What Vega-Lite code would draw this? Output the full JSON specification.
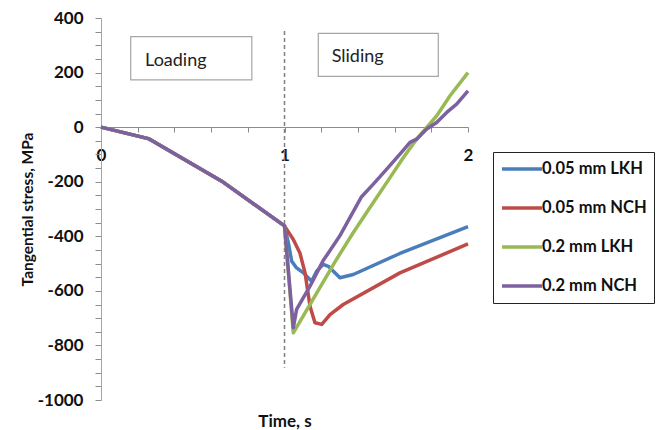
{
  "$schema": "https://vega.github.io/schema/vega-lite/v6.json",
  "width": 367,
  "height": 382,
  "autosize": {"type": "none"},
  "padding": {"left": 101, "top": 18, "right": 194, "bottom": 30},
  "background": "white",
  "config": {"view": {"stroke": null}, "font": "Lato"},
  "datasets": {
    "boxes": [
      {"x1": 0.162, "x2": 0.822, "y1": 173, "y2": 332, "label": "Loading", "tx": 0.24, "ty": 225},
      {"x1": 1.184, "x2": 1.838, "y1": 186, "y2": 344, "label": "Sliding", "tx": 1.257, "ty": 237}
    ],
    "divider": [{"time": 1, "top": 352, "bottom": -882}],
    "curves": [
      {"series": "0.05 mm LKH", "time": 0, "stress": 0},
      {"series": "0.05 mm LKH", "time": 0.258, "stress": -42},
      {"series": "0.05 mm LKH", "time": 0.658, "stress": -198},
      {"series": "0.05 mm LKH", "time": 1.0, "stress": -362},
      {"series": "0.05 mm LKH", "time": 1.021, "stress": -424},
      {"series": "0.05 mm LKH", "time": 1.039, "stress": -491},
      {"series": "0.05 mm LKH", "time": 1.066, "stress": -516},
      {"series": "0.05 mm LKH", "time": 1.103, "stress": -534},
      {"series": "0.05 mm LKH", "time": 1.148, "stress": -565},
      {"series": "0.05 mm LKH", "time": 1.175, "stress": -528},
      {"series": "0.05 mm LKH", "time": 1.211, "stress": -503},
      {"series": "0.05 mm LKH", "time": 1.239, "stress": -510},
      {"series": "0.05 mm LKH", "time": 1.302, "stress": -552},
      {"series": "0.05 mm LKH", "time": 1.375, "stress": -540},
      {"series": "0.05 mm LKH", "time": 1.629, "stress": -463},
      {"series": "0.05 mm LKH", "time": 2.0, "stress": -365},

      {"series": "0.05 mm NCH", "time": 0, "stress": 0},
      {"series": "0.05 mm NCH", "time": 0.258, "stress": -42},
      {"series": "0.05 mm NCH", "time": 0.658, "stress": -198},
      {"series": "0.05 mm NCH", "time": 1.0, "stress": -362},
      {"series": "0.05 mm NCH", "time": 1.048, "stress": -412},
      {"series": "0.05 mm NCH", "time": 1.084, "stress": -461},
      {"series": "0.05 mm NCH", "time": 1.112, "stress": -534},
      {"series": "0.05 mm NCH", "time": 1.139, "stress": -656},
      {"series": "0.05 mm NCH", "time": 1.166, "stress": -717},
      {"series": "0.05 mm NCH", "time": 1.203, "stress": -723},
      {"series": "0.05 mm NCH", "time": 1.248, "stress": -687},
      {"series": "0.05 mm NCH", "time": 1.32, "stress": -650},
      {"series": "0.05 mm NCH", "time": 1.629, "stress": -534},
      {"series": "0.05 mm NCH", "time": 2.0, "stress": -428},

      {"series": "0.2 mm LKH", "time": 0, "stress": 0},
      {"series": "0.2 mm LKH", "time": 0.258, "stress": -42},
      {"series": "0.2 mm LKH", "time": 0.658, "stress": -198},
      {"series": "0.2 mm LKH", "time": 1.0, "stress": -362},
      {"series": "0.2 mm LKH", "time": 1.048, "stress": -754},
      {"series": "0.2 mm LKH", "time": 1.284, "stress": -484},
      {"series": "0.2 mm LKH", "time": 1.375, "stress": -386},
      {"series": "0.2 mm LKH", "time": 1.484, "stress": -276},
      {"series": "0.2 mm LKH", "time": 1.575, "stress": -185},
      {"series": "0.2 mm LKH", "time": 1.647, "stress": -112},
      {"series": "0.2 mm LKH", "time": 1.72, "stress": -44},
      {"series": "0.2 mm LKH", "time": 1.775, "stress": -1},
      {"series": "0.2 mm LKH", "time": 1.829, "stress": 41},
      {"series": "0.2 mm LKH", "time": 1.902, "stress": 115},
      {"series": "0.2 mm LKH", "time": 2.0, "stress": 200},

      {"series": "0.2 mm NCH", "time": 0, "stress": 0},
      {"series": "0.2 mm NCH", "time": 0.258, "stress": -42},
      {"series": "0.2 mm NCH", "time": 0.658, "stress": -198},
      {"series": "0.2 mm NCH", "time": 1.0, "stress": -362},
      {"series": "0.2 mm NCH", "time": 1.048, "stress": -735},
      {"series": "0.2 mm NCH", "time": 1.066, "stress": -668},
      {"series": "0.2 mm NCH", "time": 1.139, "stress": -583},
      {"series": "0.2 mm NCH", "time": 1.21, "stress": -490},
      {"series": "0.2 mm NCH", "time": 1.3, "stress": -400},
      {"series": "0.2 mm NCH", "time": 1.42, "stress": -255},
      {"series": "0.2 mm NCH", "time": 1.484, "stress": -209},
      {"series": "0.2 mm NCH", "time": 1.557, "stress": -154},
      {"series": "0.2 mm NCH", "time": 1.629, "stress": -99},
      {"series": "0.2 mm NCH", "time": 1.684, "stress": -56},
      {"series": "0.2 mm NCH", "time": 1.72, "stress": -44},
      {"series": "0.2 mm NCH", "time": 1.775, "stress": -7},
      {"series": "0.2 mm NCH", "time": 1.829, "stress": 17},
      {"series": "0.2 mm NCH", "time": 1.884, "stress": 54},
      {"series": "0.2 mm NCH", "time": 1.938, "stress": 84},
      {"series": "0.2 mm NCH", "time": 2.0, "stress": 133}
    ]
  },
  "layer": [
    {
      "data": {"name": "boxes"},
      "mark": {"type": "rect", "fill": "white", "stroke": "#a6a6a6", "strokeWidth": 1.2},
      "encoding": {
        "x": {"field": "x1", "type": "quantitative"},
        "x2": {"field": "x2"},
        "y": {"field": "y1", "type": "quantitative"},
        "y2": {"field": "y2"}
      }
    },
    {
      "data": {"name": "boxes"},
      "mark": {"type": "text", "align": "left", "baseline": "alphabetic", "font": "Lato", "fontSize": 18, "color": "#222"},
      "encoding": {
        "x": {"field": "tx", "type": "quantitative"},
        "y": {"field": "ty", "type": "quantitative"},
        "text": {"field": "label"}
      }
    },
    {
      "data": {"name": "divider"},
      "mark": {"type": "rule", "color": "#808080", "strokeWidth": 1.5, "strokeDash": [4, 3]},
      "encoding": {
        "x": {"field": "time", "type": "quantitative"},
        "y": {"field": "top", "type": "quantitative"},
        "y2": {"field": "bottom"}
      }
    },
    {
      "data": {"name": "curves"},
      "mark": {"type": "line", "strokeWidth": 3.5, "interpolate": "linear", "strokeJoin": "round"},
      "encoding": {
        "x": {
          "field": "time", "type": "quantitative",
          "scale": {"domain": [0, 2], "nice": false, "zero": false},
          "axis": {
            "values": [0, 0.2, 0.4, 0.6, 0.8, 1, 1.2, 1.4, 1.6, 1.8, 2],
            "tickCount": 100,
            "labelExpr": "abs(datum.value - round(datum.value)) < 0.001 ? toString(round(datum.value)) : ''",
            "labelFlush": false,
            "labelOverlap": false,
            "labelBound": false,
            "offset": -273,
            "grid": false,
            "domainColor": "#8c8c8c",
            "tickColor": "#8c8c8c",
            "tickSize": 5,
            "labelPadding": 15,
            "labelFont": "Lato",
            "labelFontWeight": "bold",
            "labelFontSize": 17,
            "labelColor": "#111",
            "title": "Time, s",
            "titleFont": "Lato",
            "titleFontWeight": "bold",
            "titleFontSize": 17,
            "titleColor": "#111",
            "titleBaseline": "alphabetic",
            "titleY": 299
          }
        },
        "y": {
          "field": "stress", "type": "quantitative",
          "scale": {"domain": [-1000, 400], "nice": false, "zero": false},
          "axis": {
            "values": [-1000, -950, -900, -850, -800, -750, -700, -650, -600, -550, -500, -450, -400, -350, -300, -250, -200, -150, -100, -50, 0, 50, 100, 150, 200, 250, 300, 350, 400],
            "tickCount": 100,
            "labelExpr": "datum.value % 200 === 0 ? toString(datum.value) : ''",
            "labelOverlap": false,
            "grid": false,
            "domainColor": "#a6a6a6",
            "tickColor": "#8c8c8c",
            "tickSize": 6,
            "labelPadding": 12,
            "labelFont": "Lato",
            "labelFontWeight": "bold",
            "labelFontSize": 17,
            "labelColor": "#111",
            "title": "Tangential stress, MPa",
            "titleFont": "Lato",
            "titleFontWeight": "bold",
            "titleFontSize": 15.5,
            "titleColor": "#111",
            "titlePadding": 2
          }
        },
        "color": {
          "field": "series", "type": "nominal",
          "scale": {
            "domain": ["0.05 mm LKH", "0.05 mm NCH", "0.2 mm LKH", "0.2 mm NCH"],
            "range": ["#4A7EBB", "#BE4B48", "#98B954", "#7D60A0"]
          },
          "legend": {
            "orient": "none",
            "legendX": 392,
            "legendY": 134,
            "title": null,
            "symbolType": "stroke",
            "symbolSize": 1600,
            "symbolStrokeWidth": 3.5,
            "clipHeight": 20,
            "rowPadding": 19,
            "labelOffset": -2,
            "labelFont": "Lato",
            "labelFontWeight": "bold",
            "labelFontSize": 16.5,
            "labelColor": "#111",
            "padding": 7,
            "strokeColor": "#222",
            "fillColor": "white",
            "cornerRadius": 0
          }
        }
      }
    }
  ]
}
